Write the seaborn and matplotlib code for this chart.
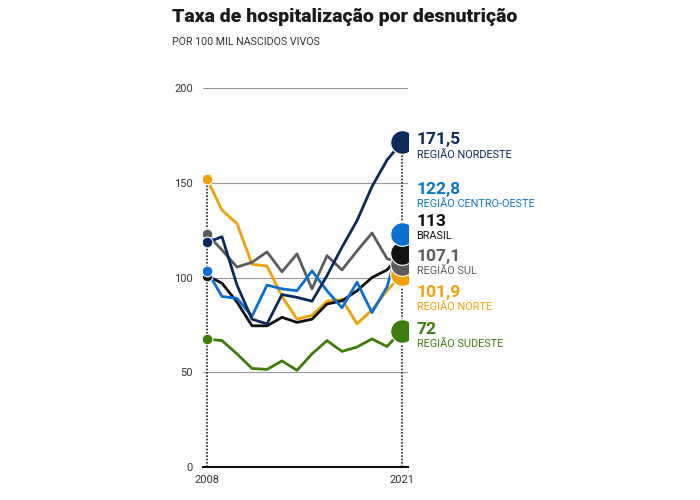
import pandas as pd
import seaborn as sns
import matplotlib.pyplot as plt

years = list(range(2008, 2022))

nordeste = [118.5, 121.5, 96, 78, 75.5, 91, 89.5, 87.5, 101, 116, 130, 148, 162, 171.5]
centro_oeste = [103.5, 90, 89, 79.5, 96, 94, 93, 103.5, 93, 84, 97.5, 81.5, 95, 122.8]
brasil = [101, 97, 87, 74.5, 74.5, 79, 76.3, 78, 86, 87.7, 93, 100, 104, 113]
sul = [123, 114.5, 105.5, 108, 113.5, 103, 112.5, 94, 111.5, 104, 114, 123.5, 110, 107.1]
norte = [152, 135.5, 128.5, 107, 106, 90, 78, 80, 87.5, 88.5, 75.5, 83, 93, 101.9]
sudeste = [67.5, 66.7, 59.7, 52, 51.5, 56, 51, 59.7, 66.7, 61, 63.3, 67.6, 63.6, 72]

series_names = ["REGIÃO NORDESTE", "REGIÃO CENTRO-OESTE", "BRASIL",
                "REGIÃO SUL", "REGIÃO NORTE", "REGIÃO SUDESTE"]
series_values = [nordeste, centro_oeste, brasil, sul, norte, sudeste]
end_labels = ["171,5", "122,8", "113", "107,1", "101,9", "72"]

colors = ["#0b2a5a", "#0b6fd0", "#111111", "#5c5c5c", "#f0a10a", "#3c7d0e"]
text_colors = ["#0b2a5a", "#0a78c8", "#111111", "#5c5c5c", "#f0a10a", "#3c7d0e"]
# where the value labels sit on the right (y in data units)
label_y = [172.6, 146.7, 129.8, 111.3, 92.3, 72.8]

rows = []
for name, vals in zip(series_names, series_values):
    for y, v in zip(years, vals):
        rows.append({"ano": y, "taxa": v, "serie": name})
df = pd.DataFrame(rows)

sns.set_style("white")
plt.rcParams["font.family"] = ["Roboto", "DejaVu Sans"]

fig = plt.figure(figsize=(7, 5), dpi=100)
ax = fig.add_axes([202.5 / 700, 33 / 500, 205.5 / 700, 379 / 500])

# grid
for g in [50, 100, 150, 200]:
    ax.axhline(g, color="#9a9a9a", lw=0.8, zorder=0)

# dotted verticals at first and last year
first = [v[0] for v in series_values]
last = [v[-1] for v in series_values]
ax.vlines(years[0], 0, max(first), colors="#222222", lw=1.2,
          linestyles=(0, (1, 1)), zorder=1)
ax.vlines(years[-1], 0, max(last), colors="#222222", lw=1.2,
          linestyles=(0, (1, 1)), zorder=1)

palette = dict(zip(series_names, colors))
sns.lineplot(data=df, x="ano", y="taxa", hue="serie", palette=palette,
             hue_order=series_names[::-1], lw=2.0, legend=False, ax=ax, zorder=3)

# start dots (small) and end dots (big)
start_order = [3, 0, 4, 2, 1, 5]
for i in start_order:
    ax.scatter(years[0], series_values[i][0], s=60, color=colors[i],
               edgecolor="white", linewidth=0.8, zorder=5)
end_order = [5, 4, 3, 2, 1, 0]
for i in end_order:
    ax.scatter(years[-1], series_values[i][-1], s=290, color=colors[i],
               edgecolor="white", linewidth=0.8, zorder=6)

# right side labels
for i in range(len(series_names)):
    ax.annotate(end_labels[i], xy=(years[-1], label_y[i]), xytext=(10.5, 0),
                textcoords="offset points", va="center", ha="left",
                fontsize=12.5, fontweight="bold", color=text_colors[i],
                annotation_clip=False)
    ax.annotate(series_names[i], xy=(years[-1], label_y[i]), xytext=(10.5, -10.5),
                textcoords="offset points", va="center", ha="left",
                fontsize=7.8, color=text_colors[i], annotation_clip=False)

ax.set_xlim(2007.7, 2021.4)
ax.set_ylim(0, 200)
ax.set_yticks([0, 50, 100, 150, 200])
ax.set_xticks([years[0], years[-1]])
ax.tick_params(axis="both", length=0, labelsize=8, labelcolor="#333333")
ax.tick_params(axis="y", pad=7)
ax.tick_params(axis="x", pad=6)
ax.set_xlabel("")
ax.set_ylabel("")
for s in ["top", "right", "left"]:
    ax.spines[s].set_visible(False)
ax.spines["bottom"].set_color("#111111")
ax.spines["bottom"].set_linewidth(1.5)

fig.text(172 / 700, 1 - 17 / 500, "Taxa de hospitalização por desnutrição",
         fontsize=14, fontweight="black", color="#1a1a1a", va="center")
fig.text(172 / 700, 1 - 42 / 500, "POR 100 MIL NASCIDOS VIVOS",
         fontsize=7.7, color="#333333", va="center")

fig.savefig("out.png", dpi=100, facecolor="white")
